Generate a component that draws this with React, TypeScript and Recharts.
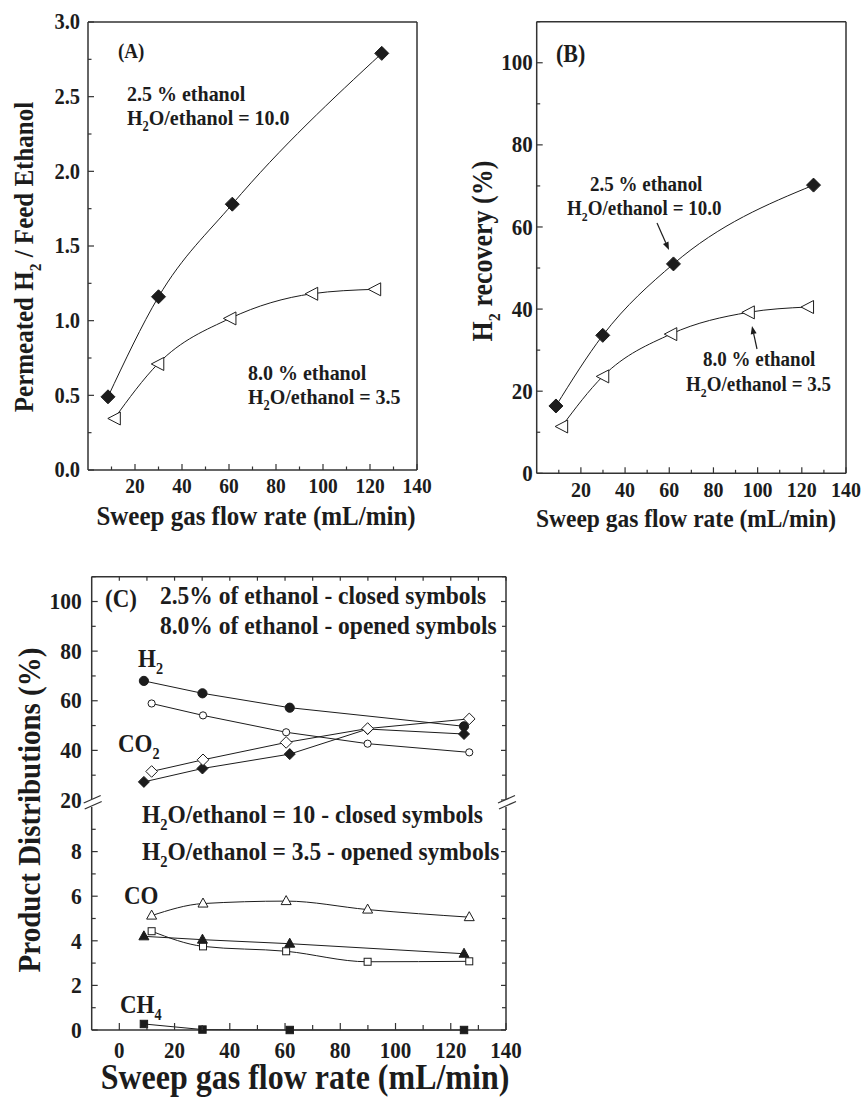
import React from 'react';
import { LineChart, Line, XAxis, YAxis } from 'recharts';

const FONT = '"Liberation Serif", "Times New Roman", Times, serif';
const INK = '#1c1c1c';
const AX = '#333';
const SY = 1.1;

// ---------- Panel A: Permeated H2 / Feed Ethanol ----------
const aClosedX = [8.5, 30, 61.4, 125];
const aClosedY = [0.49, 1.16, 1.78, 2.79];
const aOpenX = [11.2, 29.7, 60.4, 95.2, 122];
const aOpenY = [0.345, 0.71, 1.015, 1.18, 1.21];
const aXTicks = [10, 20, 30, 40, 50, 60, 70, 80, 90, 100, 110, 120, 130, 140];
const aXMajor = [20, 40, 60, 80, 100, 120, 140];
const aYTicks = [0, 0.25, 0.5, 0.75, 1, 1.25, 1.5, 1.75, 2, 2.25, 2.5, 2.75, 3];
const aYMajor = [0, 0.5, 1, 1.5, 2, 2.5, 3];

// ---------- Panel B: H2 recovery ----------
const bClosedX = [8.7, 29.9, 61.9, 125.3];
const bClosedY = [16.4, 33.6, 51, 70.2];
const bOpenX = [11.3, 29.9, 60.7, 95.8, 122.6];
const bOpenY = [11.4, 23.6, 33.9, 39.2, 40.5];
const bYTicks = [0, 10, 20, 30, 40, 50, 60, 70, 80, 90, 100, 110];
const bYMajor = [0, 20, 40, 60, 80, 100];

// ---------- Panel C: Product distributions ----------
const cClosedX = [8.9, 30.1, 61.7, 124.8];
const cClosedX5 = [8.9, 30.1, 61.7, 89.9, 124.8];
const cOpenX = [11.7, 30.3, 60.4, 89.9, 126.7];
const h2Closed = [68, 63, 57.2, 49.7];
const h2Open = [58.9, 54.1, 47.3, 42.7, 39.2];
const co2Closed = [27.3, 32.7, 38.5, 48.6, 46.6];
const co2Open = [31.5, 36.2, 43.2, 48.8, 52.7];
const coClosed = [4.2, 4.05, 3.87, 3.42];
const coOpen = [5.13, 5.67, 5.78, 5.4, 5.06];
const sqOpen = [4.43, 3.75, 3.53, 3.06, 3.08];
const ch4Closed = [0.27, 0.02, 0, 0];
const cXTicks = [0, 10, 20, 30, 40, 50, 60, 70, 80, 90, 100, 110, 120, 130, 140];
const cXMajor = [0, 20, 40, 60, 80, 100, 120, 140];
const cUpYTicks = [20, 30, 40, 50, 60, 70, 80, 90, 100, 110];
const cUpYMajor = [20, 40, 60, 80, 100];
const cLoYTicks = [0, 1, 2, 3, 4, 5, 6, 7, 8, 9];
const cLoYMajor = [0, 2, 4, 6, 8];

const pts = (xs: number[], ys: number[]) => xs.map((x, i) => ({ x, y: ys[i] }));

type Kind = 'diamondF' | 'triLeftO' | 'circleF' | 'circleO' | 'dF' | 'dO' | 'triUpF' | 'triUpO' | 'sqO' | 'sqF';

function Marker({ kind, cx, cy }: { kind: Kind; cx: number; cy: number }) {
  if (cx == null || cy == null || isNaN(cx) || isNaN(cy)) return null;
  const st = { stroke: INK, strokeWidth: 1 };
  switch (kind) {
    case 'diamondF': {
      const r = 7;
      return <path d={`M${cx},${cy - r}L${cx + r},${cy}L${cx},${cy + r}L${cx - r},${cy}Z`} fill={INK} {...st} />;
    }
    case 'triLeftO':
      return <path d={`M${cx - 6.5},${cy}L${cx + 6},${cy - 6.5}L${cx + 6},${cy + 6.5}Z`} fill="#fff" {...st} />;
    case 'circleF':
      return <circle cx={cx} cy={cy} r={4.6} fill={INK} {...st} />;
    case 'circleO':
      return <circle cx={cx} cy={cy} r={3.6} fill="#fff" {...st} />;
    case 'dF': {
      const r = 5.5;
      return <path d={`M${cx},${cy - r}L${cx + r},${cy}L${cx},${cy + r}L${cx - r},${cy}Z`} fill={INK} {...st} />;
    }
    case 'dO': {
      const r = 5.8;
      return <path d={`M${cx},${cy - r}L${cx + r},${cy}L${cx},${cy + r}L${cx - r},${cy}Z`} fill="#fff" {...st} />;
    }
    case 'triUpF':
      return <path d={`M${cx},${cy - 5.5}L${cx + 5},${cy + 3.5}L${cx - 5},${cy + 3.5}Z`} fill={INK} {...st} />;
    case 'triUpO':
      return <path d={`M${cx},${cy - 5.5}L${cx + 5},${cy + 3.5}L${cx - 5},${cy + 3.5}Z`} fill="#fff" {...st} />;
    case 'sqO':
      return <rect x={cx - 3.5} y={cy - 3.5} width={7} height={7} fill="#fff" {...st} />;
    case 'sqF':
      return <rect x={cx - 3.7} y={cy - 3.7} width={7.4} height={7.4} fill={INK} {...st} />;
  }
  return null;
}

const dotFn = (kind: Kind) => (p: any) => <Marker key={`m${p.index}`} kind={kind} cx={p.cx} cy={p.cy} />;

type Orient = 'left' | 'bottom' | 'right' | 'top';
function mkTick(orient: Orient, majors: number[], o: { len: number; minor: number; fs?: number; gap?: number; fmt?: (v: number) => string; labels?: boolean }) {
  return (p: any) => {
    const { x, y, payload } = p;
    const v = payload.value as number;
    const major = majors.some((m) => Math.abs(m - v) < 1e-9);
    const L = major ? o.len : o.minor;
    const fs = o.fs ?? 20;
    const gap = o.gap ?? 6;
    const label = o.labels !== false && major ? (o.fmt ? o.fmt(v) : String(v)) : null;
    let ln: React.ReactNode = null;
    let tx: React.ReactNode = null;
    if (orient === 'bottom') {
      ln = <line x1={x} y1={y} x2={x} y2={y - L} stroke={AX} strokeWidth={1.2} />;
      if (label) tx = (
        <text transform={`translate(${x},${y + gap}) scale(1,${SY})`} textAnchor="middle" fontSize={fs} fontWeight="bold" fontFamily={FONT} fill={INK}>{label}</text>
      );
    } else if (orient === 'top') {
      ln = <line x1={x} y1={y} x2={x} y2={y + L} stroke={AX} strokeWidth={1.2} />;
    } else if (orient === 'left') {
      ln = <line x1={x} y1={y} x2={x + L} y2={y} stroke={AX} strokeWidth={1.2} />;
      if (label) tx = (
        <text transform={`translate(${x - gap},${y + fs * 0.36}) scale(1,${SY})`} textAnchor="end" fontSize={fs} fontWeight="bold" fontFamily={FONT} fill={INK}>{label}</text>
      );
    } else {
      ln = <line x1={x} y1={y} x2={x - L} y2={y} stroke={AX} strokeWidth={1.2} />;
    }
    return <g key={`t${v}`}>{ln}{tx}</g>;
  };
}

const axLine = { stroke: AX, strokeWidth: 1.5 };

function Txt({ x, y, size, anchor = 'start', rot = 0, children }: { x: number; y: number; size: number; anchor?: 'start' | 'middle' | 'end'; rot?: number; children: React.ReactNode }) {
  return (
    <text transform={`translate(${x},${y}) rotate(${rot}) scale(1,${SY})`} fontSize={size} fontWeight="bold" fontFamily={FONT} fill={INK} textAnchor={anchor}>
      {children}
    </text>
  );
}
const Sub = ({ s, t, rest }: { s: number; t: string; rest: string }) => (
  <>
    <tspan fontSize={s * 0.62} dy={s * 0.28}>{t}</tspan>
    <tspan dy={-s * 0.28}>{rest}</tspan>
  </>
);

function Arrow({ x1, y1, x2, y2 }: { x1: number; y1: number; x2: number; y2: number }) {
  const a = Math.atan2(y2 - y1, x2 - x1);
  const h = 8, w = 3;
  const bx = x2 - h * Math.cos(a), by = y2 - h * Math.sin(a);
  const px = -Math.sin(a) * w, py = Math.cos(a) * w;
  return (
    <g>
      <line x1={x1} y1={y1} x2={bx} y2={by} stroke={INK} strokeWidth={1.2} />
      <path d={`M${x2},${y2}L${bx + px},${by + py}L${bx - px},${by - py}Z`} fill={INK} />
    </g>
  );
}

const pos = (l: number, t: number): React.CSSProperties => ({ position: 'absolute', left: l, top: t });

// invisible series that binds the frame axes (top / right) to data so they render
function FrameLine({ data }: { data: { x: number; y: number }[] }) {
  return null;
}

export default function App() {
  const lineCommon = { dataKey: 'y', stroke: INK, strokeWidth: 1, isAnimationActive: false, activeDot: false as const, legendType: 'none' as const };
  const ghost = { dataKey: 'y', stroke: 'none', strokeWidth: 0, dot: false, isAnimationActive: false, activeDot: false as const, legendType: 'none' as const, xAxisId: 'top', yAxisId: 'r' };
  return (
    <div style={{ position: 'absolute', left: 0, top: 0, width: 861, height: 1106, background: '#fff', overflow: 'hidden' }}>
      {/* Panel A */}
      <div style={pos(0, 0)}>
        <LineChart width={440} height={500} margin={{ top: 21, right: 22, left: 28, bottom: 0 }}>
          <XAxis type="number" dataKey="x" domain={[0, 140]} ticks={aXTicks} interval={0} height={30} tickSize={0} tickMargin={0} axisLine={axLine} tickLine={false}
            tick={mkTick('bottom', aXMajor, { len: 6, minor: 3.5, fs: 19.5, gap: 23 })} />
          <XAxis xAxisId="top" orientation="top" type="number" dataKey="x" domain={[0, 140]} allowDataOverflow height={1} tick={false} tickLine={false} axisLine={axLine} />
          <YAxis type="number" domain={[0, 3]} ticks={aYTicks} interval={0} width={60} tickSize={0} tickMargin={0} axisLine={axLine} tickLine={false}
            tick={mkTick('left', aYMajor, { len: 6, minor: 3.5, fs: 20.5, gap: 8, fmt: (v) => v.toFixed(1) })} />
          <YAxis yAxisId="r" orientation="right" type="number" domain={[0, 3]} allowDataOverflow width={1} tick={false} tickLine={false} axisLine={axLine} />
          <Line {...ghost} data={pts(aClosedX, aClosedY)} />
          <Line {...lineCommon} type="monotone" data={pts(aClosedX, aClosedY)} dot={dotFn('diamondF')} />
          <Line {...lineCommon} type="monotone" data={pts(aOpenX, aOpenY)} dot={dotFn('triLeftO')} />
        </LineChart>
      </div>

      {/* Panel B */}
      <div style={pos(440, 0)}>
        <LineChart width={421} height={504} margin={{ top: 20.7, right: 14, left: 36.7, bottom: 0.7 }}>
          <XAxis type="number" dataKey="x" domain={[0, 140]} ticks={aXTicks} interval={0} height={30} tickSize={0} tickMargin={0} axisLine={axLine} tickLine={false}
            tick={mkTick('bottom', aXMajor, { len: 6, minor: 3.5, fs: 20, gap: 24 })} />
          <XAxis xAxisId="top" orientation="top" type="number" dataKey="x" domain={[0, 140]} allowDataOverflow height={1} tick={false} tickLine={false} axisLine={axLine} />
          <YAxis type="number" domain={[0, 110]} ticks={bYTicks} interval={0} width={60} tickSize={0} tickMargin={0} axisLine={axLine} tickLine={false}
            tick={mkTick('left', bYMajor, { len: 6, minor: 3.5, fs: 21, gap: 4 })} />
          <YAxis yAxisId="r" orientation="right" type="number" domain={[0, 110]} allowDataOverflow width={1} tick={false} tickLine={false} axisLine={axLine} />
          <Line {...ghost} data={pts(bClosedX, bClosedY)} />
          <Line {...lineCommon} type="monotone" data={pts(bClosedX, bClosedY)} dot={dotFn('diamondF')} />
          <Line {...lineCommon} type="monotone" data={pts(bOpenX, bOpenY)} dot={dotFn('triLeftO')} />
        </LineChart>
      </div>

      {/* Panel C upper */}
      <div style={pos(0, 540)}>
        <LineChart width={540} height={280} margin={{ top: 35.7, right: 33, left: 31.7, bottom: 20 }}>
          <XAxis type="number" dataKey="x" domain={[-10, 140]} hide height={0} />
          <XAxis xAxisId="top" orientation="top" type="number" dataKey="x" domain={[-10, 140]} allowDataOverflow ticks={cXTicks} interval={0} height={1} tickSize={0} tickMargin={0} axisLine={axLine} tickLine={false}
            tick={mkTick('top', [], { len: 4, minor: 4, labels: false })} />
          <YAxis type="number" domain={[20, 110]} ticks={cUpYTicks} interval={0} width={60} tickSize={0} tickMargin={0} axisLine={axLine} tickLine={false}
            tick={mkTick('left', cUpYMajor, { len: 6, minor: 4, fs: 21.5, gap: 10 })} />
          <YAxis yAxisId="r" orientation="right" type="number" domain={[20, 110]} allowDataOverflow ticks={cUpYTicks} interval={0} width={1} tickSize={0} tickMargin={0} axisLine={axLine} tickLine={false}
            tick={mkTick('right', cUpYMajor, { len: 5, minor: 4, labels: false })} />
          <Line {...ghost} data={pts(cClosedX, h2Closed)} />
          <Line {...lineCommon} type="linear" data={pts(cClosedX, h2Closed)} dot={dotFn('circleF')} />
          <Line {...lineCommon} type="linear" data={pts(cOpenX, h2Open)} dot={dotFn('circleO')} />
          <Line {...lineCommon} type="linear" data={pts(cClosedX5, co2Closed)} dot={dotFn('dF')} />
          <Line {...lineCommon} type="linear" data={pts(cOpenX, co2Open)} dot={dotFn('dO')} />
        </LineChart>
      </div>

      {/* Panel C lower */}
      <div style={pos(0, 780)}>
        <LineChart width={540} height={290} margin={{ top: 27, right: 33, left: 31.7, bottom: 10 }}>
          <XAxis type="number" dataKey="x" domain={[-10, 140]} ticks={cXTicks} interval={0} height={30} tickSize={0} tickMargin={0} axisLine={axLine} tickLine={false}
            tick={mkTick('bottom', cXMajor, { len: 7, minor: 5, fs: 21, gap: 28 })} />
          <XAxis xAxisId="top" orientation="top" type="number" dataKey="x" domain={[-10, 140]} allowDataOverflow hide height={0} />
          <YAxis type="number" domain={[0, 10]} ticks={cLoYTicks} interval={0} width={60} tickSize={0} tickMargin={0} axisLine={axLine} tickLine={false}
            tick={mkTick('left', cLoYMajor, { len: 6, minor: 4, fs: 21.5, gap: 10 })} />
          <YAxis yAxisId="r" orientation="right" type="number" domain={[0, 10]} allowDataOverflow ticks={cLoYTicks} interval={0} width={1} tickSize={0} tickMargin={0} axisLine={axLine} tickLine={false}
            tick={mkTick('right', cLoYMajor, { len: 5, minor: 4, labels: false })} />
          <Line {...ghost} data={pts(cOpenX, coOpen)} />
          <Line {...lineCommon} type="monotone" data={pts(cOpenX, coOpen)} dot={dotFn('triUpO')} />
          <Line {...lineCommon} type="monotone" data={pts(cOpenX, sqOpen)} dot={dotFn('sqO')} />
          <Line {...lineCommon} type="linear" data={pts(cClosedX, coClosed)} dot={dotFn('triUpF')} />
          <Line {...lineCommon} type="linear" data={pts(cClosedX, ch4Closed)} dot={dotFn('sqF')} />
        </LineChart>
      </div>

      {/* Annotations overlay */}
      <svg width={861} height={1106} style={{ position: 'absolute', left: 0, top: 0, pointerEvents: 'none' }}>
        {/* Panel A */}
        <Txt x={256} y={525} size={25} anchor="middle">Sweep gas flow rate (mL/min)</Txt>
        <Txt x={33} y={257} size={25} anchor="middle" rot={-90}>Permeated H<Sub s={25} t="2" rest=" / Feed Ethanol" /></Txt>
        <Txt x={118} y={58} size={19}>(A)</Txt>
        <Txt x={127} y={101} size={20}>2.5 % ethanol</Txt>
        <Txt x={127} y={125} size={20}>H<Sub s={20} t="2" rest="O/ethanol = 10.0" /></Txt>
        <Txt x={248} y={380} size={20}>8.0 % ethanol</Txt>
        <Txt x={248} y={404} size={20}>H<Sub s={20} t="2" rest="O/ethanol = 3.5" /></Txt>

        {/* Panel B */}
        <Txt x={686} y={527} size={23.5} anchor="middle">Sweep gas flow rate (mL/min)</Txt>
        <Txt x={492} y={251} size={26} anchor="middle" rot={-90}>H<Sub s={26} t="2" rest=" recovery (%)" /></Txt>
        <Txt x={556} y={62} size={22}>(B)</Txt>
        <Txt x={590} y={191} size={19}>2.5 % ethanol</Txt>
        <Txt x={567} y={215} size={19}>H<Sub s={19} t="2" rest="O/ethanol = 10.0" /></Txt>
        <Arrow x1={657} y1={223} x2={669} y2={250} />
        <Txt x={703} y={366} size={19}>8.0 % ethanol</Txt>
        <Txt x={686} y={391} size={19}>H<Sub s={19} t="2" rest="O/ethanol = 3.5" /></Txt>
        <Arrow x1={757} y1={349} x2={752} y2={326} />

        {/* Panel C */}
        <Txt x={305} y={1089} size={32} anchor="middle">Sweep gas flow rate (mL/min)</Txt>
        <Txt x={40} y={810} size={29} anchor="middle" rot={-90}>Product Distributions (%)</Txt>
        <Txt x={105} y={607} size={23}>(C)</Txt>
        <Txt x={160} y={604} size={23.5}>2.5% of ethanol - closed symbols</Txt>
        <Txt x={160} y={634} size={23.5}>8.0% of ethanol - opened symbols</Txt>
        <Txt x={138} y={667} size={23}>H<Sub s={23} t="2" rest="" /></Txt>
        <Txt x={118} y={752} size={23}>CO<Sub s={23} t="2" rest="" /></Txt>
        <Txt x={142} y={823} size={23.5}>H<Sub s={23.5} t="2" rest="O/ethanol = 10 - closed symbols" /></Txt>
        <Txt x={142} y={860} size={23.5}>H<Sub s={23.5} t="2" rest="O/ethanol = 3.5 - opened symbols" /></Txt>
        <Txt x={124} y={904} size={23}>CO</Txt>
        <Txt x={120} y={1013} size={23}>CH<Sub s={23} t="4" rest="" /></Txt>

        {/* axis break marks */}
        {[91.7, 506].map((bx) => (
          <g key={bx}>
            <polygon points={`${bx - 6},${802} ${bx + 6},${796.5} ${bx + 7},${802.5} ${bx - 5},${808}`} fill="#fff" />
            <line x1={bx - 8} y1={803} x2={bx + 9} y2={795.5} stroke={AX} strokeWidth={1.3} />
            <line x1={bx - 7} y1={809} x2={bx + 10} y2={801.5} stroke={AX} strokeWidth={1.3} />
          </g>
        ))}
      </svg>
    </div>
  );
}
